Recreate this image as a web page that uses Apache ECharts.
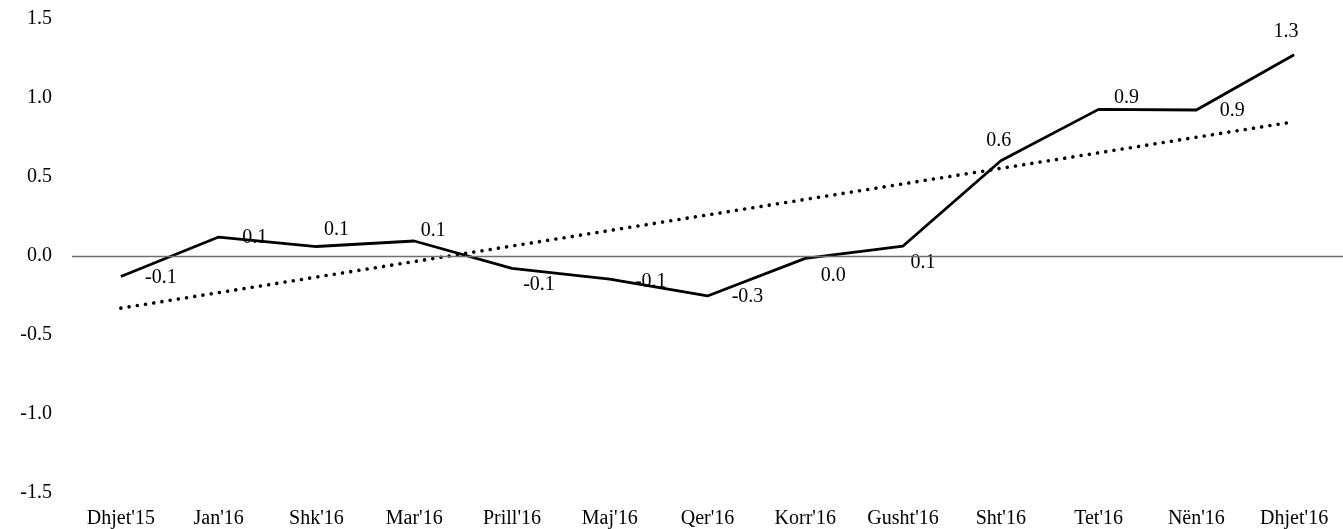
<!DOCTYPE html>
<html>
<head>
<meta charset="utf-8">
<script src="https://cdn.jsdelivr.net/npm/echarts@6/dist/echarts.min.js"></script>
<style>
html,body{margin:0;padding:0;background:#fff;}
#chart{width:1343px;height:529px;}
</style>
</head>
<body>
<div id="chart"></div>
<script>
// Data
var categories = ["Dhjet'15","Jan'16","Shk'16","Mar'16","Prill'16","Maj'16","Qer'16","Korr'16","Gusht'16","Sht'16","Tet'16","Nën'16","Dhjet'16"];
var values = [-0.13, 0.12, 0.06, 0.095, -0.078, -0.146, -0.253, -0.015, 0.063, 0.603, 0.928, 0.924, 1.274];
// Linear trend line: start and end values only
var trendValues = [-0.33, null, null, null, null, null, null, null, null, null, null, null, 0.85];
var yTicks = [-1.5, -1.0, -0.5, 0.0, 0.5, 1.0, 1.5];

// Styling: label offsets (pixels) per point
var labelOffsets = [[40,1],[36,1],[20,-17],[19,-10],[27,16],[41,3],[40,1],[28,17],[20,17],[-2,-20],[28,-12],[36,1],[-8,-23]];

var FONT = 'Liberation Serif';
function fmt(v){ var s = Number(v).toFixed(1); return s === '-0.0' ? '0.0' : s; }

var chart = echarts.init(document.getElementById('chart'), null, {renderer:'canvas'});
chart.setOption({
  animation: false,
  backgroundColor: '#ffffff',
  grid: {left: 72, right: 0, top: 19, bottom: 36},
  xAxis: {
    type: 'category',
    data: categories,
    boundaryGap: true,
    axisLine: {show: false},
    axisTick: {show: false},
    splitLine: {show: false},
    axisLabel: {color: '#000', fontFamily: FONT, fontSize: 20, margin: 16, interval: 0}
  },
  yAxis: {
    type: 'value',
    min: yTicks[0],
    max: yTicks[yTicks.length - 1],
    interval: 0.5,
    axisLine: {show: false},
    axisTick: {show: false},
    splitLine: {show: false},
    axisLabel: {color: '#000', fontFamily: FONT, fontSize: 20, margin: 20, formatter: function(v){ return fmt(v); }}
  },
  series: [
    {
      type: 'line',
      data: trendValues,
      connectNulls: true,
      symbol: 'none',
      silent: true,
      lineStyle: {color: '#000', width: 3.6, type: [0.01, 8.3], cap: 'round'},
      z: 2
    },
    {
      type: 'line',
      data: values.map(function(v, i){
        return {value: v, label: {offset: labelOffsets[i]}};
      }),
      symbol: 'circle',
      symbolSize: 0.1,
      showSymbol: true,
      itemStyle: {color: '#000'},
      lineStyle: {color: '#000', width: 2.8},
      label: {
        show: true,
        position: 'inside',
        color: '#000',
        fontFamily: FONT,
        fontSize: 20,
        formatter: function(p){ return fmt(p.value); }
      },
      markLine: {
        silent: true,
        symbol: 'none',
        label: {show: false},
        lineStyle: {color: '#6e6e6e', width: 1.3, type: 'solid'},
        data: [{yAxis: 0}]
      },
      z: 3
    }
  ]
});
</script>
</body>
</html>
